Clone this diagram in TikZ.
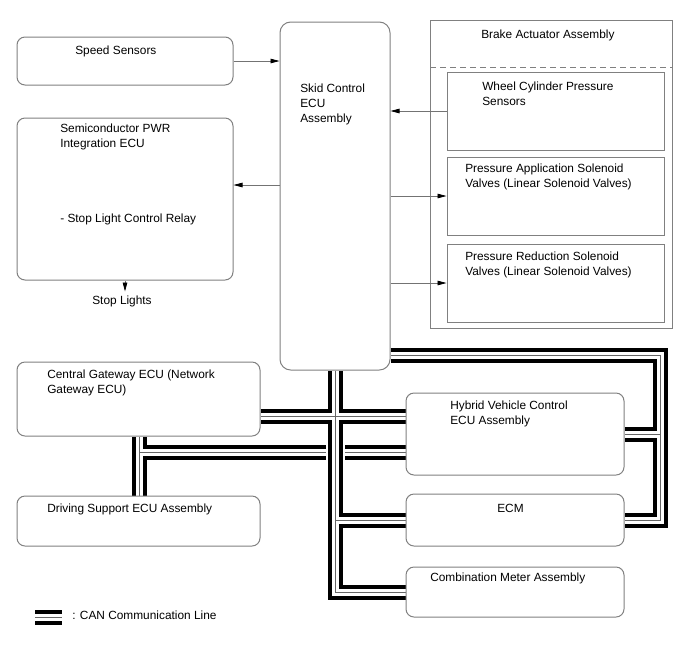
\documentclass[tikz,border=0pt]{standalone}
\usepackage{fontspec}
\setmainfont{Liberation Sans}
\usetikzlibrary{arrows.meta,fit,positioning,backgrounds}

\tikzset{every picture/.style={line width=0.75pt}}
\tikzset{
  box/.style={draw=black!50, fill=white, rounded corners=6pt, inner sep=0pt},
  sqbox/.style={draw=black!50, fill=white, inner sep=0pt},
  lbl/.style={anchor=north west, inner sep=0pt, align=left, font=\fontsize{8.9pt}{11.25pt}\selectfont},
  arr/.style={draw=black!55, line width=0.6pt, -{Triangle[length=6.75pt,width=3.4pt,black]}},
  canbus/.style={draw=black, line width=11.25pt,
    postaction={draw=white, line width=5.25pt},
    postaction={draw=black!60, line width=0.6pt}},
  canover/.style={canbus, preaction={draw=white, line width=14.25pt}},
}

\begin{document}
\begin{tikzpicture}[x=0.75pt,y=0.75pt,yscale=-1]
\useasboundingbox (0,0) rectangle (688,658);

%Boxes
\node[box, fit={(17,37) (233,85)}] (speed) {};
\node[box, fit={(17,118) (233,280)}] (pwr) {};
\node[box, rounded corners=8pt, fit={(280,22) (390,370)}] (skid) {};
\node[sqbox, fit={(430,20) (672,328)}] (brake) {};
\node[sqbox, fit={(447,72) (664,150)}] (wcps) {};
\node[sqbox, fit={(447,157) (664,235)}] (pasv) {};
\node[sqbox, fit={(447,244) (664,322)}] (prsv) {};
\node[box, fit={(17,362) (260,436)}] (gw) {};
\node[box, fit={(17,496) (260,546)}] (dsecu) {};
\node[box, fit={(406,393) (624,475)}] (hv) {};
\node[box, fit={(406,494) (624,546)}] (ecm) {};
\node[box, fit={(406,567) (624,617)}] (meter) {};

%Dashed Line
\coordinate (dsh) at (430,67);
\draw[draw=black!50, dash pattern=on 4.5pt off 3pt] (dsh) -- (dsh -| brake.east);

%CAN Lines
\coordinate (gwtee) at (139,452);
\coordinate (cross) at (335,416);
\coordinate (rtop) at (660,355);
\begin{pgfonlayer}{background}
\draw[canbus] (gw.south -| gwtee) -- (dsecu.north -| gwtee)
  (gwtee) -- (gwtee -| hv.west);
\draw[canover] (skid.south) -- (skid.south |- meter.west) -- (meter.west)
  (cross -| gw.east) -- (cross -| hv.west)
  (skid.south |- ecm.west) -- (ecm.west);
\draw[canbus] (rtop -| skid.east) -- (rtop) -- (rtop |- ecm.east) -- (ecm.east)
  (rtop |- hv.east) -- (hv.east);
\end{pgfonlayer}

%Arrows
\coordinate (pwrin) at (233,185);
\draw[arr] (speed.east) -- (speed -| skid.west);
\draw[arr] (wcps.west) -- (wcps -| skid.east);
\draw[arr] (pwrin -| skid.west) -- (pwrin -| pwr.east);
\draw[arr] (pasv -| skid.east) -- (pasv.west);
\draw[arr] (prsv -| skid.east) -- (prsv.west);

% Text Node
\node[lbl] (speedtxt) at (75,45.5) {Speed Sensors};
% Text Node
\node[lbl] (pwrtxt) at (60,123.5) {Semiconductor PWR\\Integration ECU};
% Text Node
\node[lbl] (relaytxt) at (60,213.5) {- Stop Light Control Relay};
% Text Node
\node[lbl, anchor=north] (stoplt) at (122,295.5) {Stop Lights};
% Text Node
\node[lbl] (skidtxt) at (300,83.5) {Skid Control\\ECU\\Assembly};
% Text Node
\node[lbl] (braketxt) at (481,29.5) {Brake Actuator Assembly};
% Text Node
\node[lbl] (wcpstxt) at (482,81.5) {Wheel Cylinder Pressure\\Sensors};
% Text Node
\node[lbl] (pasvtxt) at (465,163.5) {Pressure Application Solenoid\\Valves (Linear Solenoid Valves)};
% Text Node
\node[lbl] (prsvtxt) at (465,251.5) {Pressure Reduction Solenoid\\Valves (Linear Solenoid Valves)};
% Text Node
\node[lbl] (gwtxt) at (47,369.5) {Central Gateway ECU (Network\\Gateway ECU)};
% Text Node
\node[lbl] (dstxt) at (47,503.5) {Driving Support ECU Assembly};
% Text Node
\node[lbl] (hvtxt) at (450,400.5) {Hybrid Vehicle Control\\ECU Assembly};
% Text Node
\node[lbl] (ecmtxt) at (497,503.5) {ECM};
% Text Node
\node[lbl] (metertxt) at (430,572.5) {Combination Meter Assembly};

\draw[arr, shorten >=3pt] (pwr.south) -- (pwr.south |- stoplt.north);

%Legend
\coordinate (lega) at (35,617);
\coordinate (legb) at (62,617);
\draw[canbus] (lega) -- (legb);
% Text Node
\node[lbl] (legtxt) at (72,610.5) {: CAN Communication Line};

\end{tikzpicture}
\end{document}
